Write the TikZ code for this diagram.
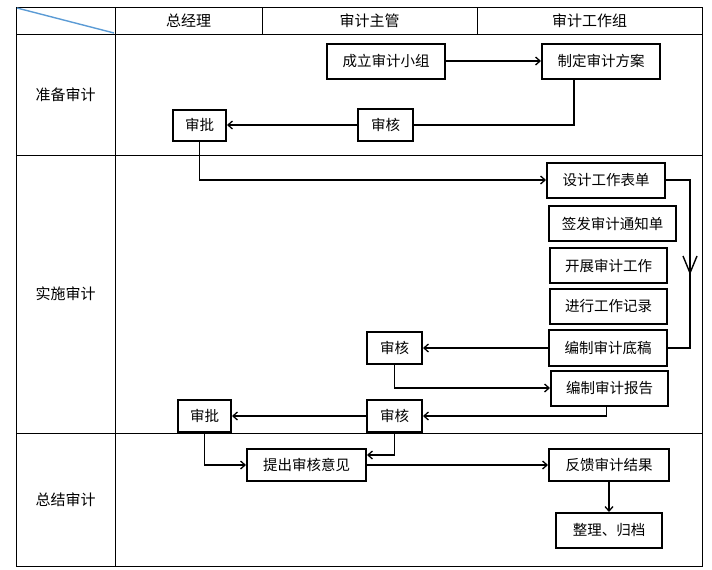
\documentclass[tikz,border=0pt]{standalone}
\usepackage{fontspec}
\setmainfont{Noto Sans CJK SC}
\usetikzlibrary{arrows.meta,calc}
\definecolor{diagblue}{HTML}{5B9BD5}
\tikzset{
  box/.style={draw, line width=2pt, inner sep=0pt, font=\fontsize{14.5}{16}\selectfont},
  conn/.style={line width=1.8pt, -{Straight Barb[length=4.5pt,width=8pt,line width=1.3pt]}},
  plain/.style={line width=1.8pt},
  grid/.style={line width=0.9pt},
  lab/.style={font=\fontsize{15}{17}\selectfont, inner sep=0pt}
}
\begin{document}
\begin{tikzpicture}[x=1pt,y=-1pt]
\useasboundingbox (0,0) rectangle (712,570);
% table
\draw[grid] (16,7) rectangle (702,566);
\draw[grid] (16,34) -- (702,34);
\draw[grid] (16,155) -- (702,155);
\draw[grid] (16,433) -- (702,433);
\draw[grid] (115,7) -- (115,566);
\draw[grid] (262,7) -- (262,34);
\draw[grid] (477,7) -- (477,34);
\draw[diagblue, line width=1.4pt] (17,8) -- (114,33);
\node[lab] (h1) at (188.5,20.5) {总经理};
\node[lab] (h2) at (369.5,20.5) {审计主管};
\node[lab] (h3) at (589.5,20.5) {审计工作组};
\node[lab] (r1) at (65.5,94.5) {准备审计};
\node[lab] (r2) at (65.5,294) {实施审计};
\node[lab] (r3) at (65.5,499.5) {总结审计};
% boxes
\node[box, minimum width=118, minimum height=35] (zuzhi) at (386,61) {成立审计小组};
\node[box, minimum width=118, minimum height=35] (fangan) at (601,61) {制定审计方案};
\node[box, minimum width=53, minimum height=31] (sp1) at (199.5,125) {审批};
\node[box, minimum width=55, minimum height=32] (sh1) at (385.5,125) {审核};
\node[box, minimum width=118, minimum height=35] (sheji) at (606,180) {设计工作表单};
\node[box, minimum width=127, minimum height=35] (tongzhi) at (612.5,223.5) {签发审计通知单};
\node[box, minimum width=117, minimum height=35] (kaizhan) at (608.5,265.5) {开展审计工作};
\node[box, minimum width=117, minimum height=35] (jilu) at (608.5,306.5) {进行工作记录};
\node[box, minimum width=118, minimum height=36] (digao) at (608,348) {编制审计底稿};
\node[box, minimum width=117, minimum height=35] (baogao) at (609.5,388) {编制审计报告};
\node[box, minimum width=55, minimum height=32] (sh2) at (394.5,348) {审核};
\node[box, minimum width=55, minimum height=32] (sh3) at (394.5,416) {审核};
\node[box, minimum width=53, minimum height=32] (sp2) at (204.5,416) {审批};
\node[box, minimum width=119, minimum height=32] (tichu) at (306.5,465) {提出审核意见};
\node[box, minimum width=120, minimum height=32] (fankui) at (609,465) {反馈审计结果};
\node[box, minimum width=106, minimum height=35] (guidang) at (609,530.5) {整理、归档};
% helper coordinates
\coordinate (rx) at (690,0);
\coordinate (c455) at (0,455);
% connectors
\draw[conn] (zuzhi) -- (fangan);
\draw[plain] ($(fangan.south)+(-27,0)$) |- (sh1.east);
\draw[conn] (sh1) -- (sp1);
\draw[conn] (sp1.south) |- (sheji.west);
\draw[plain] (sheji.east) -| (rx |- digao.east) -- (digao.east);
\draw[line width=1.4pt] (683,256) -- (690,273) -- (697,256);
\draw[conn] (digao) -- (sh2);
\draw[conn] (sh2.south) |- (baogao.west);
\draw[conn] ($(baogao.south)+(-3,0)$) |- (sh3.east);
\draw[conn] (sh3) -- (sp2);
\draw[conn] (sp2.south) |- (tichu.west);
\draw[conn] (sh3.south) |- (tichu.east |- c455);
\draw[conn] (tichu) -- (fankui);
\draw[conn] (fankui) -- (guidang);
\end{tikzpicture}
\end{document}
